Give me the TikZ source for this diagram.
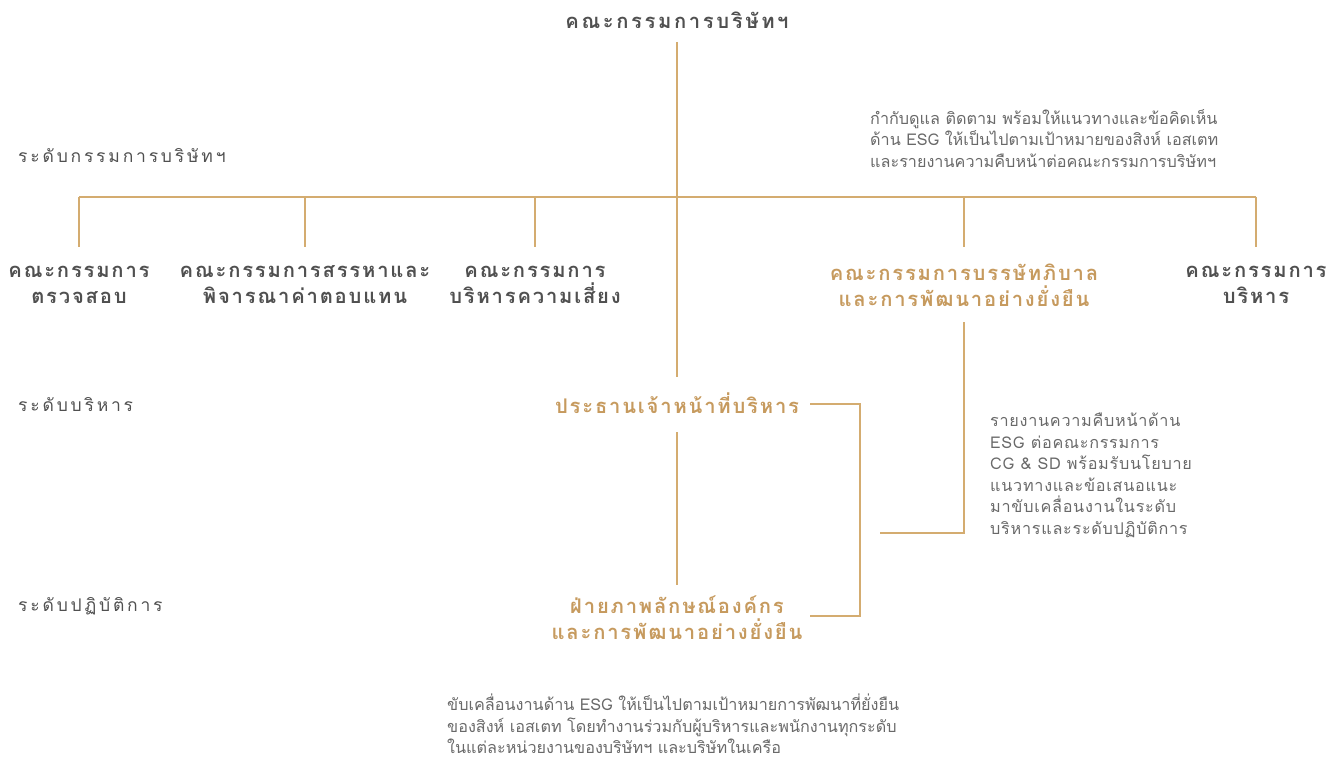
\documentclass[tikz,border=0pt]{standalone}
\usepackage{fontspec}
\newfontfamily\thH[Script=Thai,LetterSpace=9]{Loma}
\newfontfamily\thT[Script=Thai,LetterSpace=13]{Loma}
\newfontfamily\thL[Script=Thai,LetterSpace=16]{Loma}
\newfontfamily\thD[Script=Thai]{Loma}
\newfontfamily\thJ[Script=Thai,LetterSpace=4.5]{Loma}
\definecolor{gold}{RGB}{198,154,94}
\definecolor{goldline}{RGB}{212,172,112}
\definecolor{darkg}{RGB}{80,80,80}
\definecolor{descg}{RGB}{105,105,105}
\begin{document}
\begin{tikzpicture}[x=1pt,y=-1pt,
  ln/.style={draw=goldline,line width=1.1pt},
  head/.style={font=\thH\bfseries\fontsize{20.2}{26}\selectfont,text=darkg,align=center,inner sep=0pt},
  ghead/.style={head,text=gold},
  lvl/.style={font=\thL\fontsize{17.5}{20}\selectfont,text=darkg,anchor=west,inner sep=0pt},
  desc/.style={font=\thD\fontsize{16.2}{21.5}\selectfont,text=descg,align=left,anchor=north west,inner sep=0pt}]
\useasboundingbox (0,0) rectangle (1341,759);
% titles
\node[head,font=\thT\bfseries\fontsize{20.2}{26}\selectfont] (board) at (677,20) {คณะกรรมการบริษัทฯ};
\node[head] (audit) at (79,285) {คณะกรรมการ\\ตรวจสอบ};
\node[head] (nom) at (305,285) {คณะกรรมการสรรหาและ\\พิจารณาค่าตอบแทน};
\node[head] (risk) at (535,285) {คณะกรรมการ\\บริหารความเสี่ยง};
\node[ghead] (cgsd) at (964,285) {คณะกรรมการบรรษัทภิบาล\\และการพัฒนาอย่างยั่งยืน};
\node[head] (exec) at (1256,285) {คณะกรรมการ\\บริหาร};
\node[ghead] (ceo) at (677,403) {ประธานเจ้าหน้าที่บริหาร};
\node[ghead] (csd) at (677,618) {ฝ่ายภาพลักษณ์องค์กร\\และการพัฒนาอย่างยั่งยืน};
% levels
\node[lvl] (lv1) at (18,156) {ระดับกรรมการบริษัทฯ};
\node[lvl] (lv2) at (18,405) {ระดับบริหาร};
\node[lvl] (lv3) at (18,606) {ระดับปฏิบัติการ};
% descriptions
\node[desc] (d1) at (870,109) {กำกับดูแล ติดตาม พร้อมให้แนวทางและข้อคิดเห็น\\ด้าน ESG ให้เป็นไปตามเป้าหมายของสิงห์ เอสเตท\\และรายงานความคืบหน้าต่อคณะกรรมการบริษัทฯ};
\node[desc,font=\thJ\fontsize{16.2}{21.5}\selectfont] (d2) at (990,413) {รายงานความคืบหน้าด้าน\\ESG ต่อคณะกรรมการ\\CG \& SD พร้อมรับนโยบาย\\แนวทางและข้อเสนอแนะ\\มาขับเคลื่อนงานในระดับ\\บริหารและระดับปฏิบัติการ};
\node[desc] (d3) at (447,694) {ขับเคลื่อนงานด้าน ESG ให้เป็นไปตามเป้าหมายการพัฒนาที่ยั่งยืน\\ของสิงห์ เอสเตท โดยทำงานร่วมกับผู้บริหารและพนักงานทุกระดับ\\ในแต่ละหน่วยงานของบริษัทฯ และบริษัทในเครือ};
% coordinates
\coordinate (top) at (677,42);
\coordinate (ceoin) at (677,377);
\coordinate (b1) at (79,197);
\coordinate (b2) at (305,197);
\coordinate (b3) at (535,197);
\coordinate (b4) at (964,197);
\coordinate (b5) at (1256,197);
\coordinate (e1) at (79,247);
\coordinate (e2) at (305,247);
\coordinate (e3) at (535,247);
\coordinate (e4) at (964,247);
\coordinate (e5) at (1256,247);
\coordinate (cgout) at (964,322);
\coordinate (cgend) at (880,533);
\coordinate (ceoR) at (810,404);
\coordinate (csdR) at (810,616);
\coordinate (ceoout) at (677,432);
\coordinate (csdin) at (677,585);
% connectors
\draw[ln] (top) -- (ceoin);
\draw[ln] (b1) -- (b5);
\foreach \i in {1,...,5} {\draw[ln] (b\i) -- (e\i);}
\draw[ln] (cgout) |- (cgend);
\draw[ln] (ceoR) -- ++(50,0) |- (csdR);
\draw[ln] (ceoout) -- (csdin);
\end{tikzpicture}
\end{document}
